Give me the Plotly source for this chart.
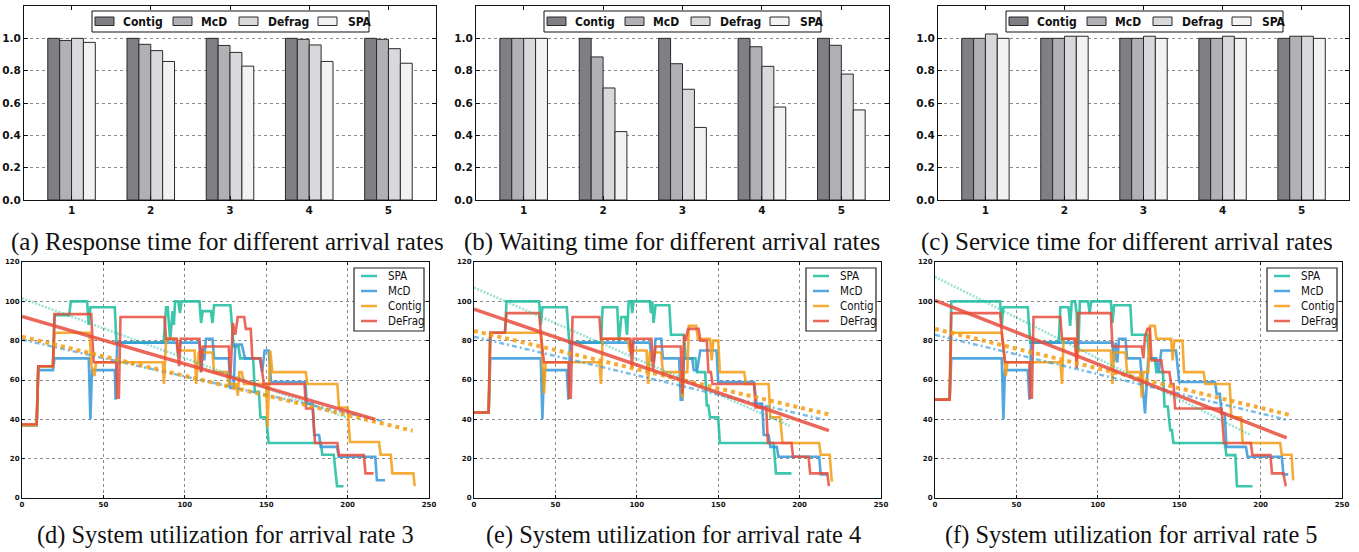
import plotly.graph_objects as go

W, H = 1359, 552

# ---------------- data: top bar charts ----------------
categories = [1, 2, 3, 4, 5]
bar_names = ["Contig", "McD", "Defrag", "SPA"]

resp_contig = [1.0, 1.0, 1.0, 1.0, 1.0]
resp_mcd = [0.987, 0.963, 0.956, 0.994, 0.994]
resp_defrag = [1.0, 0.924, 0.913, 0.959, 0.936]
resp_spa = [0.975, 0.857, 0.828, 0.857, 0.846]

wait_contig = [1.0, 1.0, 1.0, 1.0, 1.0]
wait_mcd = [1.0, 0.885, 0.843, 0.948, 0.957]
wait_defrag = [1.0, 0.693, 0.685, 0.827, 0.779]
wait_spa = [1.0, 0.423, 0.449, 0.575, 0.557]

serv_contig = [1.0, 1.0, 1.0, 1.0, 1.0]
serv_mcd = [1.0, 1.0, 1.0, 1.0, 1.013]
serv_defrag = [1.027, 1.013, 1.013, 1.013, 1.013]
serv_spa = [1.0, 1.013, 1.0, 1.0, 1.0]

# ---------------- data: utilization time series (time, %) ----------------
d_spa = [(0,37),(9,37),(10,67),(19,67),(20,93),(29,93),(30,100),(40,100),(41,88),(42,97),(57,97),(58,79),(87,79),
         (88.5,97),(89.5,97),(91,80),(92.5,95),(93.3,88),(94,100),(96,100),(97,94),(98,100),(109,100),(110,89),(111,95),
         (116,95),(117,89),(118,98),(128,98),(130,77),(133,77),(134,71),(142,71),(143,54),(145.5,54),(146.5,41),(150,41),
         (151.5,28),(183.5,28),(184.5,22),(191.5,22),(193.5,6),(197.5,6)]
d_mcd = [(0,37),(9,37),(10,65),(19,65),(20,71),(41,71),(42,40),(43,65),(57,65),(57.5,50),(58.5,79),(95,79),(96,73),
         (97,79),(109,79),(110,64),(111,76),(112,70),(113,81),(117,81),(118,71),(127,71),(128,56),(130,56),(131,78),
         (135,78),(137,71),(146,71),(147.5,64),(149,75),(151.5,75),(153,59),(174,59),(175,48),(178.5,48),(179.5,32),
         (182.5,32),(183.5,26),(193.5,26),(194.5,21),(217,21),(218,9),(223,9)]
d_contig = [(0,37),(9,37),(10,67),(19,67),(20,84),(41.5,84),(42.5,68),(44.5,62),(45.5,69),(86.5,69),(87.2,58),(88.5,81),
            (95,81),(96,75),(106,75),(107,58),(108.5,74),(117,74),(118,64),(126,64),(127,58),(131.5,58),(132.6,52),
            (133.5,64),(135,64),(136.4,58),(150,58),(150.8,36),(152.5,75),(153.8,64),(174.3,64),(175.3,58),(193.7,58),
            (194.7,46),(200,46),(201.5,28.5),(219.3,28.5),(220.3,22),(226.5,22),(227.5,12.5),(240.4,12.5),(241.2,6)]
d_defrag = [(0,37.5),(9,37.5),(10,67),(19,67),(20,93.5),(42.5,93.5),(44,69),(58,69),(58.5,51),(59.5,51),(60.5,92),
            (87.5,92),(88.5,81),(95,81),(96.5,67),(97.5,81),(109,81),(110,64),(111,77),(127,77),(128,61),(129.5,89),
            (131,83),(132.5,92),(136.5,92),(137.5,86),(140.5,86),(141.5,71),(146.5,71),(147.5,65),(148.5,58),(173.5,58),
            (174.5,45.5),(178.6,45.5),(180,28),(193.7,28),(194.7,21.8),(210,21.8),(211,12.5),(216,12.5)]

e_spa = [(0,43.5),(9,43.5),(10,84),(19,84),(20,100),(40,100),(41,88),(42,97),(57,97),(58.5,79),(78,79),(79,97),(88,97),
         (89,79),(90.5,92),(93,92),(94,83),(95,100),(96.5,100),(97.2,94),(98,100),(108,100),(108.7,94),(109.5,100),
         (110.3,89),(111.5,98),(120,98),(121,83),(129,83),(130,71),(136,71),(137,64),(142,64),(143,47),(144,47),
         (145,41),(150,41),(151,28),(184,28),(185.5,12.5),(195,12.5)]
e_mcd = [(0,43.5),(9,43.5),(10,71),(41,71),(42,40),(43,65),(57,65),(58,50),(59,79),(95.5,79),(96.5,73),(97.5,79),
         (108,79),(109,70),(110.5,70),(111.5,81),(115,81),(116,71),(126,71),(127,50),(128,50),(129,71),(134,71),
         (135,65),(137,65),(139,75),(149,75),(150,59),(172,59),(173.5,48),(177,48),(178,32),(181,32),(182,26),
         (186,26),(187,21),(212,21),(213,12),(217.5,12)]
e_contig = [(0,43.5),(9,43.5),(10,84),(41,84),(42,69),(43,53),(44,69),(77,69),(78,58),(79,81),(94.5,81),(95.5,75),
            (106,75),(107,58),(108,74),(115,74),(116,64),(127,64),(128,51),(129,64),(131,64),(132,87.5),(136.5,87.5),
            (137.5,81),(145,81),(146,70),(147,80),(150,80),(151,64),(166,64),(167,58),(181,58),(182,41),(188,41),
            (189.5,28),(212,28),(213,22),(218.5,22),(219.7,9),(220.7,9)]
e_defrag = [(0,43.5),(9,43.5),(10,84),(19,84),(20,94),(40,94),(41.5,80),(43,69),(58,69),(58.5,51),(59.5,51),(60.5,92),
            (77,92),(78,81),(96,81),(97,66),(98,81),(109,81),(110,65),(111.5,77),(127,77),(128,53),(129,83),(130,80),
            (131.5,86),(138,86),(139,80),(143,80),(144,64),(145.5,64),(146.5,58),(172,58),(173,46),(179.5,46),
            (180.5,28),(195,28),(196,21),(205.5,21),(206.5,12.5),(217,12.5),(218,6)]

f_spa = [(0,50),(9,50),(10,100),(40,100),(41,88),(42,97),(57,97),(58.5,79),(76,79),(77,97),(82,97),(83,87.5),(84,100),
         (86,100),(87,94),(88,74.5),(89,100),(94,100),(95,94),(96,100),(108,100),(109,89),(110,98),(120,98),(121,83),
         (130.5,83),(131.5,71),(135,71),(136,64),(140,64),(141,46.5),(143,46.5),(144.5,34.5),(145.5,34.5),(146.5,28),
         (178,28),(179,21.8),(184.5,21.8),(185.5,6),(195,6)]
f_mcd = [(0,50),(9,50),(10,71),(41,71),(42,40),(43,65),(57,65),(58,50),(59,79),(109,79),(110,69),(111,79),(112,69),
         (113,81),(117,81),(118,71),(126,71),(129,43),(131,71),(136,71),(137.5,64),(139,75),(148,75),(150,59),(172,59),
         (173,53),(175,53),(176,43),(178,43),(179,26),(191,26),(192,21),(213,21),(214,12),(217,12)]
f_contig = [(0,50),(9,50),(10,84),(41,84),(42,78),(43.5,62),(44.5,69),(77,69),(78,58),(79,81),(86,81),(87,69),(88,75),
            (108,75),(109,58),(110,74),(117,74),(118,64),(126,64),(127,51),(128,64),(131,64),(132,87.5),(135,87.5),
            (136,81),(145,81),(146,70),(147,80),(152,80),(153,64),(165,64),(166,58),(181,58),(182,41),(188,41),
            (189,28),(212,28),(213,22),(219,22),(220,9)]
f_defrag = [(0,50),(9,50),(10,94),(40,94),(41.5,80),(43,69),(58,69),(58.5,51),(59.5,51),(60.5,92),(77,92),(78,81),
            (86,81),(87,66),(88,94),(108,94),(109,77),(127,77),(128,71),(129,82),(130.5,86),(132,86),(133,70),(139,70),
            (140,64),(144,64),(145,58),(146.5,58),(147.5,45.5),(176,45.5),(177.5,28),(194,28),(195,21.8),(206,21.8),
            (207,12.5),(214,12.5),(215.5,6)]

# linear trend lines: (x_start, x_end), (y_start, y_end)
d_trend_spa = ([0, 199], [101.5, 41])
d_trend_mcd = ([0, 222], [80.5, 39])
d_trend_contig = ([0, 240], [82, 34.2])
d_trend_defrag = ([0, 217], [92.3, 40])
e_trend_spa = ([0, 194], [107, 36.7])
e_trend_mcd = ([0, 215], [82, 39.8])
e_trend_contig = ([0, 218], [85, 42.5])
e_trend_defrag = ([0, 218], [96, 34.3])
f_trend_spa = ([0, 194], [112.5, 32])
f_trend_mcd = ([0, 217], [83, 39.6])
f_trend_contig = ([0, 218], [86, 42.2])
f_trend_defrag = ([0, 216], [100.5, 30.6])

line_names = ["SPA", "McD", "Contig", "DeFrag"]

top_captions = ["(a) Response time for different arrival rates",
                "(b) Waiting time for different arrival rates",
                "(c) Service time for different arrival rates"]
bottom_captions = ["(d) System utilization for arrival rate 3",
                   "(e) System utilization for arrival rate 4",
                   "(f) System utilization for arrival rate 5"]

# ---------------- styling ----------------
bar_colors = ["#7f7f84", "#b1b1b5", "#d9d9db", "#f2f2f2"]
line_colors = ["#1abc9c", "#3498db", "#f39c12", "#e74c3c"]
rgb = {"#1abc9c": (26, 188, 156), "#3498db": (52, 152, 219), "#f39c12": (243, 156, 18), "#e74c3c": (231, 76, 60)}


def rgba(c, a):
    r, g, b = rgb[c]
    return f"rgba({r},{g},{b},{a})"


def fx(p):
    return p / W


def fy(p):
    return 1 - p / H


TICKFONT = dict(family="DejaVu Sans, sans-serif", size=10.5, color="#111", weight="bold")
SMALLTICK = dict(family="DejaVu Sans, sans-serif", size=7, color="#111", weight="bold")
LEGBOLD = dict(family="DejaVu Sans Condensed, Liberation Sans Narrow, sans-serif", size=12, color="#111", weight="bold")
LEGREG = dict(family="DejaVu Sans Condensed, Liberation Sans Narrow, sans-serif", size=11.5, color="#111")
CAPFONT_TOP = dict(family="Liberation Serif, Times New Roman, serif", size=25, color="#111")
CAPFONT_BOT = dict(family="Liberation Serif, Times New Roman, serif", size=24.4, color="#111")

fig = go.Figure()
layout = dict(width=W, height=H, margin=dict(l=0, r=0, t=0, b=0, pad=0, autoexpand=False),
              paper_bgcolor="white", plot_bgcolor="white",
              showlegend=False, barmode="group", bargap=0.4, bargroupgap=0.0)
shapes = []
annotations = []

top_left = [24, 476, 938]
top_right = [436, 889, 1349]
top_y = (6, 200)
bot_left = [22, 474, 935]
bot_right = [429, 881, 1342]
bot_y = (262, 498)

top_data = [[resp_contig, resp_mcd, resp_defrag, resp_spa],
            [wait_contig, wait_mcd, wait_defrag, wait_spa],
            [serv_contig, serv_mcd, serv_defrag, serv_spa]]
top_cap_x = [227, 672, 1127]
bot_cap_x = [225, 673, 1131]

for i in range(3):
    n = i + 1
    xa = "x" if n == 1 else f"x{n}"
    ya = "y" if n == 1 else f"y{n}"
    for vals, name, col in zip(top_data[i], bar_names, bar_colors):
        fig.add_trace(go.Bar(x=categories, y=vals, name=name, xaxis=xa, yaxis=ya, offsetgroup=name,
                             marker=dict(color=col, line=dict(color="#2a2a2a", width=1))))
    layout["xaxis" if n == 1 else f"xaxis{n}"] = dict(
        domain=[fx(top_left[i]), fx(top_right[i])], anchor=ya, range=[0.4, 5.6], tickvals=categories,
        ticks="inside", ticklen=4, tickcolor="#111", showline=True, linecolor="#111", linewidth=1, mirror="ticks",
        showgrid=False, zeroline=False, tickfont=TICKFONT, automargin=False)
    layout["yaxis" if n == 1 else f"yaxis{n}"] = dict(
        domain=[fy(top_y[1]), fy(top_y[0])], anchor=xa, range=[0, 1.2], tickvals=[0, 0.2, 0.4, 0.6, 0.8, 1.0],
        tickformat=".1f", ticks="inside", ticklen=4, tickcolor="#111", showline=True, linecolor="#111", linewidth=1,
        mirror="ticks", showgrid=True, gridcolor="#8a8a8a", griddash="dot", gridwidth=1, zeroline=False,
        tickfont=TICKFONT, automargin=False)
    # legend (top)
    L = top_left[i]
    shapes.append(dict(type="rect", xref="paper", yref="paper", x0=fx(L + 68), x1=fx(L + 345), y0=fy(32), y1=fy(11),
                       line=dict(color="#111", width=1), fillcolor="white"))
    sw = [71, 149, 215, 294]
    tx = [97, 175, 242, 322]
    for k in range(4):
        shapes.append(dict(type="rect", xref="paper", yref="paper", x0=fx(L + sw[k]), x1=fx(L + sw[k] + 19),
                           y0=fy(25.5), y1=fy(17), line=dict(color="#2a2a2a", width=1), fillcolor=bar_colors[k]))
        annotations.append(dict(xref="paper", yref="paper", x=fx(L + tx[k]), y=fy(21.5), text=bar_names[k],
                                showarrow=False, xanchor="left", yanchor="middle", font=LEGBOLD))
    annotations.append(dict(xref="paper", yref="paper", x=fx(top_cap_x[i]), y=fy(242), text=top_captions[i],
                            showarrow=False, xanchor="center", yanchor="middle", font=CAPFONT_TOP))

bottom_series = [[d_spa, d_mcd, d_contig, d_defrag],
                 [e_spa, e_mcd, e_contig, e_defrag],
                 [f_spa, f_mcd, f_contig, f_defrag]]
bottom_trends = [[d_trend_spa, d_trend_mcd, d_trend_contig, d_trend_defrag],
                 [e_trend_spa, e_trend_mcd, e_trend_contig, e_trend_defrag],
                 [f_trend_spa, f_trend_mcd, f_trend_contig, f_trend_defrag]]

trend_styles = [
    dict(width=2.5, dash="2px,1.5px", alpha=0.45),
    dict(width=2.5, dash="5px,3px,2px,3px", alpha=0.65),
    dict(width=4, dash="4px,4px", alpha=0.85),
    dict(width=3.5, dash="solid", alpha=0.85),
]

for i in range(3):
    n = i + 4
    xa, ya = f"x{n}", f"y{n}"
    for pts, name, col in zip(bottom_series[i], line_names, line_colors):
        fig.add_trace(go.Scatter(x=[p[0] for p in pts], y=[p[1] for p in pts], mode="lines", name=name,
                                 xaxis=xa, yaxis=ya, line=dict(color=rgba(col, 0.85), width=2.6)))
    for tr, name, col, st in zip(bottom_trends[i], line_names, line_colors, trend_styles):
        fig.add_trace(go.Scatter(x=tr[0], y=tr[1], mode="lines", name=name + " trend", xaxis=xa, yaxis=ya,
                                 line=dict(color=rgba(col, st["alpha"]), width=st["width"], dash=st["dash"])))
    layout[f"xaxis{n}"] = dict(
        domain=[fx(bot_left[i]), fx(bot_right[i])], anchor=ya, range=[0, 250], dtick=50, ticks="inside", ticklen=3,
        tickcolor="#111", showline=True, linecolor="#111", linewidth=1, mirror="ticks", showgrid=True,
        gridcolor="#8a8a8a", griddash="dot", gridwidth=1, zeroline=False, tickfont=SMALLTICK, automargin=False)
    layout[f"yaxis{n}"] = dict(
        domain=[fy(bot_y[1]), fy(bot_y[0])], anchor=xa, range=[0, 120], dtick=20, ticks="inside", ticklen=3,
        tickcolor="#111", showline=True, linecolor="#111", linewidth=1, mirror="ticks", showgrid=True,
        gridcolor="#8a8a8a", griddash="dot", gridwidth=1, zeroline=False, tickfont=SMALLTICK, automargin=False)
    # legend (bottom)
    R, T = bot_right[i], bot_y[0]
    shapes.append(dict(type="rect", xref="paper", yref="paper", x0=fx(R - 75), x1=fx(R - 5), y0=fy(T + 69),
                       y1=fy(T + 6), line=dict(color="#222", width=1.2), fillcolor="white"))
    for k in range(4):
        yy = T + 14 + 15 * k
        shapes.append(dict(type="line", xref="paper", yref="paper", x0=fx(R - 68), x1=fx(R - 52), y0=fy(yy),
                           y1=fy(yy), line=dict(color=rgba(line_colors[k], 0.85), width=2.5)))
        annotations.append(dict(xref="paper", yref="paper", x=fx(R - 43), y=fy(yy), text=line_names[k],
                                showarrow=False, xanchor="left", yanchor="middle", font=LEGREG))
    annotations.append(dict(xref="paper", yref="paper", x=fx(bot_cap_x[i]), y=fy(535), text=bottom_captions[i],
                            showarrow=False, xanchor="center", yanchor="middle", font=CAPFONT_BOT))

layout["shapes"] = shapes
layout["annotations"] = annotations
fig.update_layout(**layout)
# remove the browser's default 8px body margin so the figure fills the window exactly; hide the modebar
fig.write_html("out.html", config={"displayModeBar": False},
               post_script="document.body.style.margin='0';document.body.style.overflow='hidden';")
